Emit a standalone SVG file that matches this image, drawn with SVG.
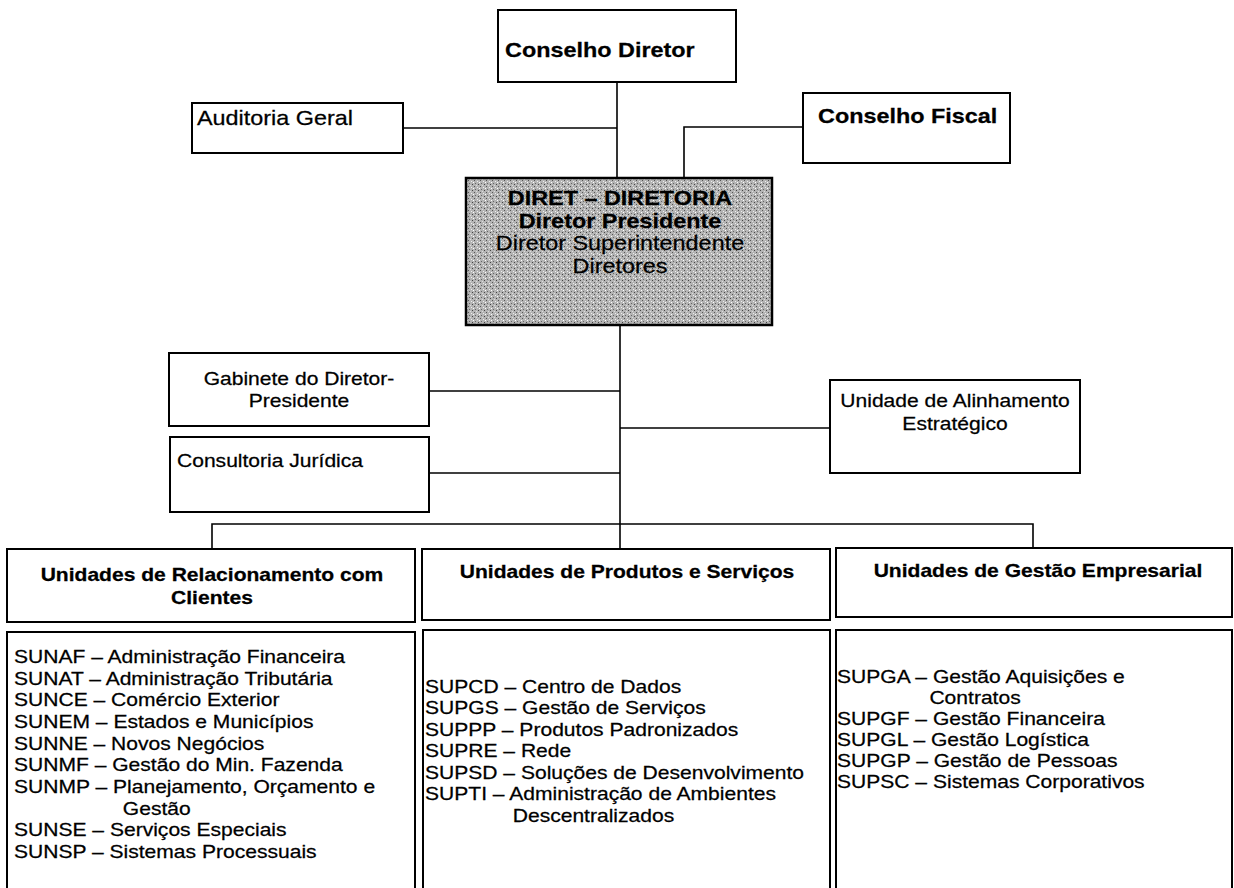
<svg xmlns="http://www.w3.org/2000/svg" width="1234" height="888" viewBox="0 0 1234 888">
<style>
.box{fill:#fff;stroke:#000;stroke-width:2}
.conn line,.conn polyline{stroke:#000;stroke-width:1.6;fill:none}
text{font-family:"Liberation Sans",Arial,sans-serif;fill:#000;stroke:#000;stroke-width:0.25}
.b{font-weight:bold}
.s18{font-size:18px}
.s20{font-size:20px}
.m{text-anchor:middle}
</style>
<defs>
<pattern id="grain" width="6" height="6" patternUnits="userSpaceOnUse">
<rect width="6" height="6" fill="#b4b4b4"/>
<rect x="0" y="0" width="1" height="1" fill="#555"/>
<rect x="3" y="1" width="1" height="1" fill="#eee"/>
<rect x="1" y="3" width="1" height="1" fill="#666"/>
<rect x="4" y="4" width="1" height="1" fill="#444"/>
<rect x="5" y="2" width="1" height="1" fill="#fff"/>
<rect x="2" y="5" width="1" height="1" fill="#ddd"/>
</pattern>
</defs>
<rect width="1234" height="888" fill="#fff"/>
<g class="conn" id="connectors">
<line x1="617" y1="82" x2="617" y2="178"/>
<line x1="403" y1="128" x2="617" y2="128"/>
<polyline points="803,127 684,127 684,178"/>
<line x1="620" y1="325" x2="620" y2="549"/>
<line x1="429" y1="391" x2="620" y2="391"/>
<line x1="429" y1="473" x2="620" y2="473"/>
<line x1="620" y1="428" x2="830" y2="428"/>
<polyline points="212,549 212,524 1033,524 1033,548"/>
</g>
<g id="conselho-diretor">
<rect class="box" x="498" y="10" width="238" height="72"/>
<text class="b s20" transform="translate(505,57) scale(1.17,1)">Conselho Diretor</text>
</g>
<g id="auditoria-geral">
<rect class="box" x="192" y="103" width="211" height="50"/>
<text class="s20" transform="translate(197,125) scale(1.17,1)">Auditoria Geral</text>
</g>
<g id="conselho-fiscal">
<rect class="box" x="803" y="93" width="207" height="70"/>
<text class="b s20" transform="translate(818,123) scale(1.17,1)">Conselho Fiscal</text>
</g>
<g id="diret">
<rect x="466" y="178" width="306" height="147" fill="url(#grain)" stroke="#000" stroke-width="2.5"/>
<text class="b s20 m" transform="translate(620,205) scale(1.17,1)">DIRET – DIRETORIA</text>
<text class="b s20 m" transform="translate(620,228) scale(1.17,1)">Diretor Presidente</text>
<text class="s20 m" transform="translate(620,250) scale(1.17,1)">Diretor Superintendente</text>
<text class="s20 m" transform="translate(620,273) scale(1.17,1)">Diretores</text>
</g>
<g id="gabinete">
<rect class="box" x="169" y="353" width="260" height="73"/>
<text class="s18 m" transform="translate(299,385) scale(1.17,1)">Gabinete do Diretor-</text>
<text class="s18 m" transform="translate(299,407) scale(1.17,1)">Presidente</text>
</g>
<g id="consultoria">
<rect class="box" x="170" y="437" width="259" height="75"/>
<text class="s18" transform="translate(177,467) scale(1.17,1)">Consultoria Jurídica</text>
</g>
<g id="alinhamento">
<rect class="box" x="830" y="380" width="250" height="93"/>
<text class="s18 m" transform="translate(955,407) scale(1.17,1)">Unidade de Alinhamento</text>
<text class="s18 m" transform="translate(955,430) scale(1.17,1)">Estratégico</text>
</g>
<g id="hdr-clientes">
<rect class="box" x="7" y="549" width="408" height="73"/>
<text class="b s18 m" transform="translate(212,581) scale(1.17,1)">Unidades de Relacionamento com</text>
<text class="b s18 m" transform="translate(212,604) scale(1.17,1)">Clientes</text>
</g>
<g id="hdr-produtos">
<rect class="box" x="422" y="549" width="408" height="71"/>
<text class="b s18 m" transform="translate(627,578) scale(1.17,1)">Unidades de Produtos e Serviços</text>
</g>
<g id="hdr-gestao">
<rect class="box" x="836" y="548" width="396" height="69"/>
<text class="b s18 m" transform="translate(1038,577) scale(1.17,1)">Unidades de Gestão Empresarial</text>
</g>
<g id="lista-clientes">
<rect class="box" x="7" y="632" width="408" height="270"/>
<text class="s18" transform="translate(14,663) scale(1.17,1)">
<tspan x="0" y="0">SUNAF – Administração Financeira</tspan>
<tspan x="0" y="21.7">SUNAT – Administração Tributária</tspan>
<tspan x="0" y="43.3">SUNCE – Comércio Exterior</tspan>
<tspan x="0" y="65">SUNEM – Estados e Municípios</tspan>
<tspan x="0" y="86.7">SUNNE – Novos Negócios</tspan>
<tspan x="0" y="108.3">SUNMF – Gestão do Min. Fazenda</tspan>
<tspan x="0" y="130">SUNMP – Planejamento, Orçamento e</tspan>
<tspan x="93" y="151.7">Gestão</tspan>
<tspan x="0" y="173.3">SUNSE – Serviços Especiais</tspan>
<tspan x="0" y="195">SUNSP – Sistemas Processuais</tspan>
</text>
</g>
<g id="lista-produtos">
<rect class="box" x="423" y="630" width="407" height="270"/>
<text class="s18" transform="translate(425,693) scale(1.17,1)">
<tspan x="0" y="0">SUPCD – Centro de Dados</tspan>
<tspan x="0" y="21.5">SUPGS – Gestão de Serviços</tspan>
<tspan x="0" y="43">SUPPP – Produtos Padronizados</tspan>
<tspan x="0" y="64.5">SUPRE – Rede</tspan>
<tspan x="0" y="86">SUPSD – Soluções de Desenvolvimento</tspan>
<tspan x="0" y="107.5">SUPTI – Administração de Ambientes</tspan>
<tspan x="75" y="129">Descentralizados</tspan>
</text>
</g>
<g id="lista-gestao">
<rect class="box" x="836" y="630" width="396" height="270"/>
<text class="s18" transform="translate(837,683) scale(1.17,1)">
<tspan x="0" y="0">SUPGA – Gestão Aquisições e</tspan>
<tspan x="79" y="21">Contratos</tspan>
<tspan x="0" y="42">SUPGF – Gestão Financeira</tspan>
<tspan x="0" y="63">SUPGL – Gestão Logística</tspan>
<tspan x="0" y="84">SUPGP – Gestão de Pessoas</tspan>
<tspan x="0" y="105">SUPSC – Sistemas Corporativos</tspan>
</text>
</g>
</svg>
